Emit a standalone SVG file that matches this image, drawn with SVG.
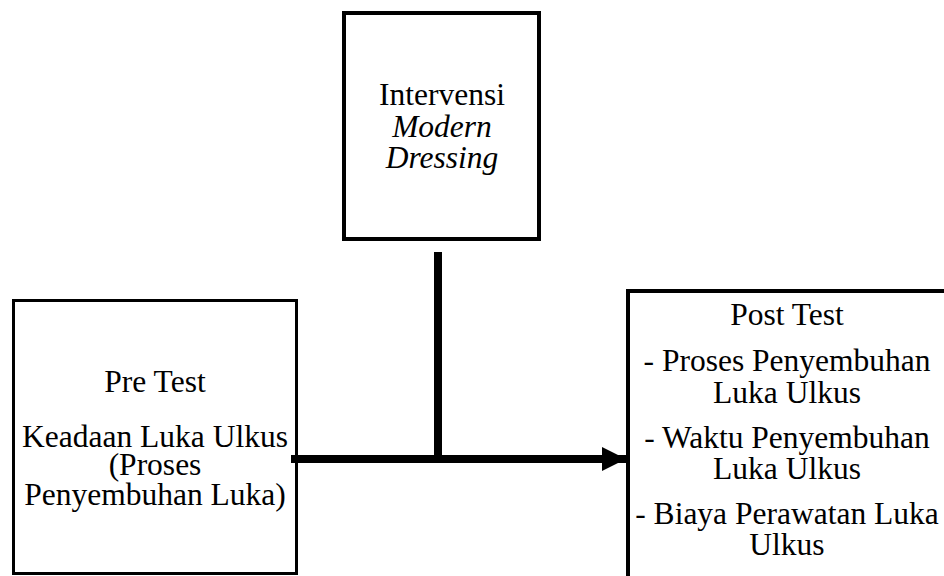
<svg xmlns="http://www.w3.org/2000/svg" width="944" height="576" viewBox="0 0 944 576">
<style>
.box{fill:#fff;stroke:#000}
.t{font-family:"Liberation Serif","Times New Roman",serif;font-size:31.5px;fill:#000;text-anchor:middle}
.i{font-style:italic}
.c{stroke:#000;stroke-width:8;fill:none}
</style>
<defs>
<marker id="ah" markerUnits="userSpaceOnUse" markerWidth="26" markerHeight="26" refX="24" refY="12" orient="auto">
<path d="M0,0 L24,12 L0,24 Z" fill="#000"/>
</marker>
</defs>
<g id="intervensi">
<rect class="box" x="344" y="13" width="195" height="226" stroke-width="4"/>
<text class="t" x="442" y="105">Intervensi</text>
<text class="t i" x="442" y="137">Modern</text>
<text class="t i" x="442" y="168">Dressing</text>
</g>
<g id="pretest">
<rect class="box" x="13.5" y="300.5" width="283" height="273" stroke-width="3"/>
<text class="t" x="155" y="392">Pre Test</text>
<text class="t" x="155" y="447">Keadaan Luka Ulkus</text>
<text class="t" x="155" y="475">(Proses</text>
<text class="t" x="155" y="505">Penyembuhan Luka)</text>
</g>
<g id="posttest">
<rect class="box" x="628" y="291" width="330" height="300" stroke-width="4"/>
<text class="t" x="787" y="325">Post Test</text>
<text class="t" x="787" y="371">- Proses Penyembuhan</text>
<text class="t" x="787" y="403">Luka Ulkus</text>
<text class="t" x="787" y="448">- Waktu Penyembuhan</text>
<text class="t" x="787" y="479">Luka Ulkus</text>
<text class="t" x="787" y="524">- Biaya Perawatan Luka</text>
<text class="t" x="787" y="555">Ulkus</text>
</g>
<g id="connectors">
<line class="c" x1="438" y1="252" x2="438" y2="459"/>
<line class="c" x1="291" y1="459" x2="626" y2="459" marker-end="url(#ah)"/>
</g>
</svg>
